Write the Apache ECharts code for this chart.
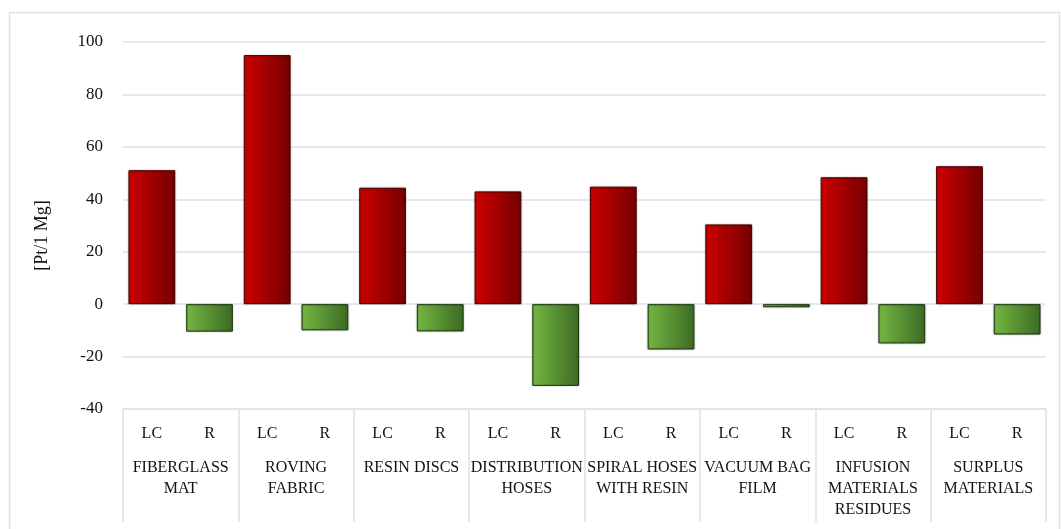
<!DOCTYPE html>
<html>
<head>
<meta charset="utf-8">
<script src="https://cdn.jsdelivr.net/npm/echarts@6/dist/echarts.min.js"></script>
<style>
  html, body { margin: 0; padding: 0; background: #ffffff; }
  #chart { width: 1061px; height: 529px; }
</style>
</head>
<body>
<div id="chart"></div>
<script>
// Material groups shown along the lower axis row
const categories = [
  'FIBERGLASS\nMAT',
  'ROVING\nFABRIC',
  'RESIN DISCS',
  'DISTRIBUTION\nHOSES',
  'SPIRAL HOSES\nWITH RESIN',
  'VACUUM BAG\nFILM',
  'INFUSION\nMATERIALS\nRESIDUES',
  'SURPLUS\nMATERIALS'
];
// Sub-labels for the two bars inside each group
const subLabels = ['LC', 'R'];
// Values in Pt per 1 Mg
const lcValues = [51.1, 95.0, 44.4, 43.0, 44.8, 30.4, 48.4, 52.6];
const rValues = [-10.5, -10.0, -10.4, -31.2, -17.3, -1.2, -15.0, -11.6];
// Value axis range
const yMin = -40, yMax = 100, yStep = 20;
const yName = '[Pt/1 Mg]';

const FONT = '"Liberation Serif", "DejaVu Serif", serif';
const TEXT = '#111111';
const LINE = '#dde2ea';

// One slot per bar: LC, R, LC, R, ...
const slots = [];
const lcData = [];
const rData = [];
categories.forEach((c, i) => {
  slots.push(subLabels[0], subLabels[1]);
  lcData.push(lcValues[i], '-');
  rData.push('-', rValues[i]);
});

const grad = (a, b) => ({
  type: 'linear', x: 0, y: 0, x2: 1, y2: 0,
  colorStops: [{ offset: 0, color: a }, { offset: 1, color: b }]
});

const chart = echarts.init(document.getElementById('chart'));
chart.setOption({
  backgroundColor: '#ffffff',
  animation: false,
  graphic: [{
    type: 'rect',
    shape: { x: 9.5, y: 12.5, width: 1050, height: 520 },
    style: { fill: 'none', stroke: LINE, lineWidth: 1.5 },
    silent: true
  }],
  grid: { left: 123, right: 15, top: 42, bottom: 120 },
  xAxis: [
    {
      type: 'category',
      data: slots,
      position: 'bottom',
      axisLine: { show: false, onZero: false },
      axisTick: { show: false },
      axisLabel: {
        interval: 0, margin: 16, color: TEXT,
        fontFamily: FONT, fontSize: 16, lineHeight: 17
      },
      splitLine: { show: false }
    },
    {
      type: 'category',
      data: categories,
      position: 'bottom',
      axisLine: { show: true, onZero: false, lineStyle: { color: LINE, width: 1.5 } },
      axisTick: {
        show: true, interval: 0, length: 113,
        lineStyle: { color: LINE, width: 1.5 }
      },
      axisLabel: {
        interval: 0, margin: 48, color: TEXT,
        fontFamily: FONT, fontSize: 16, lineHeight: 21, align: 'center'
      },
      splitLine: { show: false }
    }
  ],
  yAxis: {
    type: 'value',
    min: yMin, max: yMax, interval: yStep,
    name: yName,
    nameLocation: 'middle',
    nameGap: 72,
    nameTextStyle: {
      color: TEXT, fontFamily: FONT, fontSize: 18,
      padding: [0, 20, 0, 0]
    },
    axisLine: { show: false },
    axisTick: { show: false },
    axisLabel: { color: TEXT, fontFamily: FONT, fontSize: 17, margin: 20 },
    splitLine: { lineStyle: { color: LINE, width: 1.5 } }
  },
  series: [
    {
      name: subLabels[0],
      type: 'bar',
      xAxisIndex: 0,
      data: lcData,
      barGap: '-100%',
      barCategoryGap: '19%',
      itemStyle: {
        color: grad('#cc0000', '#760000'),
        borderColor: '#4a0000', borderWidth: 1,
        shadowColor: 'rgba(0,0,0,0.3)', shadowBlur: 2
      }
    },
    {
      name: subLabels[1],
      type: 'bar',
      xAxisIndex: 0,
      data: rData,
      barGap: '-100%',
      barCategoryGap: '19%',
      itemStyle: {
        color: grad('#74b743', '#3d6a24'),
        borderColor: '#1e3b10', borderWidth: 1,
        shadowColor: 'rgba(0,0,0,0.3)', shadowBlur: 2
      }
    }
  ]
});
</script>
</body>
</html>
